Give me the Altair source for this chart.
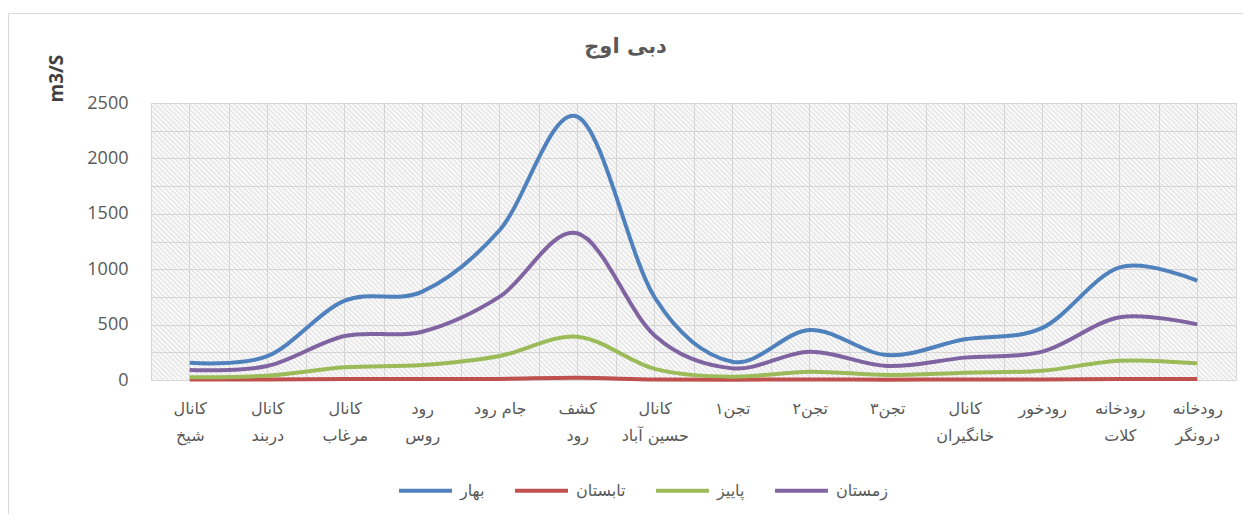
import altair as alt
import pandas as pd

categories = ["کانال\nشیخ", "کانال\nدربند", "کانال\nمرغاب", "رود\nروس", "جام رود", "کشف\nرود",
              "کانال\nحسین آباد", "تجن۱", "تجن۲", "تجن۳", "کانال\nخانگیران", "رودخور",
              "رودخانه\nکلات", "رودخانه\nدرونگر"]
seasons = ["بهار", "تابستان", "پاییز", "زمستان"]
bahar = [156, 215, 716, 797, 1354, 2377, 745, 165, 451, 225, 367, 470, 1017, 896]
tabestan = [5, 5, 8, 8, 10, 20, 5, 3, 5, 3, 5, 5, 10, 8]
paeez = [24, 39, 114, 135, 217, 391, 100, 30, 75, 45, 66, 84, 174, 150]
zemestan = [90, 126, 397, 436, 752, 1324, 400, 105, 256, 126, 202, 256, 566, 502]
colors = ["#4F81BD", "#C0504D", "#9BBB59", "#8064A2"]

series = [bahar, tabestan, paeez, zemestan]
rows = []
for s, vals in zip(seasons, series):
    for c, v in zip(categories, vals):
        rows.append({"station": c, "season": s, "value": v})
df = pd.DataFrame(rows)

W, H = 1085, 277

# hatched plot background: striped linear gradient (transparent gaps keep gridlines visible)
k = H / W
a = (1 + k) / (1 + k * k)
n = 275
stops = []
for i in range(n):
    stops.append(alt.GradientStop(offset=i / n, color="rgba(200,200,200,0)"))
    stops.append(alt.GradientStop(offset=(i + 0.5) / n, color="rgba(200,200,200,0.5)"))
stops.append(alt.GradientStop(offset=1, color="rgba(200,200,200,0)"))
hatch = alt.LinearGradient(gradient="linear", x1=0, y1=1, x2=a, y2=1 - a * k, stops=stops)

x_main = alt.X("station:N", sort=categories,
               scale=alt.Scale(paddingInner=0, paddingOuter=0),
               axis=alt.Axis(title=None, orient="bottom", tickBand="extent", grid=True,
                             gridColor="#d9d9d9", ticks=False, domain=True, domainColor="#d9d9d9",
                             labelAngle=0, labelFont="DejaVu Sans", labelFontSize=16,
                             labelColor="#595959", labelPadding=20, labelLineHeight=27,
                             labelOverlap=False, labelExpr="split(datum.label, '\\n')"))
y_main = alt.Y("value:Q", scale=alt.Scale(domain=[0, 2500], nice=False),
               axis=alt.Axis(values=list(range(0, 2501, 250)), format="d",
                             labelExpr="datum.value % 500 === 0 ? datum.label : ''",
                             grid=True, gridColor="#d9d9d9", ticks=False, tickSize=0, domain=False,
                             labelFont="Open Sans", labelFontSize=18, labelColor="#595959",
                             labelPadding=23,
                             title="m3/S", titleFont="Open Sans", titleFontSize=19,
                             titleFontWeight="bold", titleColor="#404040", titleAngle=-90,
                             titleAlign="left", titleBaseline="middle", titleX=-95, titleY=-1))
color = alt.Color("season:N", sort=seasons,
                  scale=alt.Scale(domain=seasons, range=colors),
                  legend=alt.Legend(title=None, orient="none", direction="horizontal",
                                    legendX=246, legendY=359, symbolType="stroke",
                                    symbolSize=2800, symbolStrokeWidth=4,
                                    labelFont="DejaVu Sans", labelFontSize=16,
                                    labelColor="#595959", labelOffset=6, columnPadding=22))

frame = alt.Chart(alt.Data(values=[{"f": 1}])).mark_rect(
    fill=None, stroke="#d9d9d9", strokeWidth=1).encode(
    x=alt.value(-142.5), x2=alt.value(W + 50), y=alt.value(-89.5), y2=alt.value(H + 200))

background = alt.Chart(alt.Data(values=[{"b": 1}])).mark_rect(fill=hatch).encode(
    x=alt.value(0), x2=alt.value("width"), y=alt.value(0), y2=alt.value("height"))

centers = alt.Chart(df).mark_point(opacity=0).encode(
    x=alt.X("station:N", sort=categories,
            axis=alt.Axis(title=None, orient="top", grid=True, gridColor="#d9d9d9",
                          labels=False, ticks=False, domain=False)),
    y=y_main)

lines = alt.Chart(df).mark_line(interpolate="cardinal", strokeWidth=4).encode(
    x=x_main, y=y_main, color=color, detail="season:N")

chart = alt.layer(frame, background, centers, lines).resolve_axis(x="independent").properties(
    width=W, height=H,
    autosize=alt.AutoSizeParams(type="none"),
    padding={"left": 143, "top": 95, "right": 7, "bottom": 134},
    title=alt.TitleParams("دبی اوج", font="DejaVu Sans", fontSize=21, fontWeight="bold",
                          color="#595959", anchor="middle", frame="group", dx=-68, offset=-44),
).configure_view(stroke=None).configure(background="white")

chart.save("out.html", embed_options={"renderer": "svg", "actions": False})
